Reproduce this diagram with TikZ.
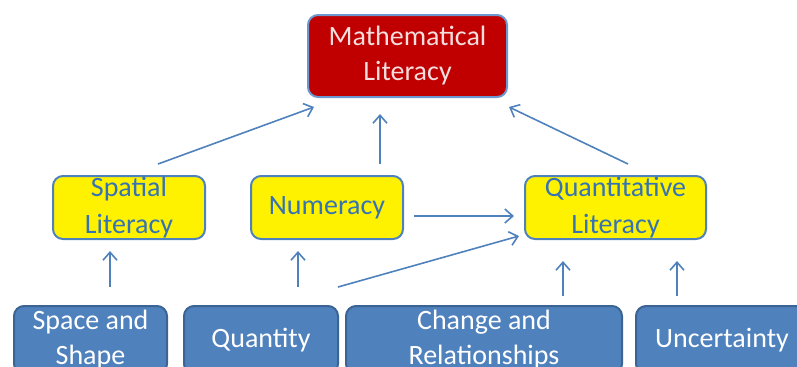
\documentclass[tikz,border=0pt]{standalone}
\usepackage{fontspec}
\setmainfont{Carlito}
\usetikzlibrary{arrows.meta}
\definecolor{litred}{HTML}{C00000}
\definecolor{litpink}{HTML}{F4DEDE}
\definecolor{litblue}{HTML}{4F81BD}
\definecolor{litedge}{HTML}{6C98CF}
\definecolor{litdark}{HTML}{3B6495}
\definecolor{littext}{HTML}{3573B4}
\tikzset{
	box/.style={rounded corners=5pt, line width=1pt, inner sep=0pt, align=center,
		font=\fontsize{14}{17.5}\selectfont},
	topbox/.style={box, fill=litred, draw=litedge, text=litpink},
	midbox/.style={box, fill=yellow, draw=litblue, text=littext, font=\fontsize{14}{18.5}\selectfont},
	lowbox/.style={box, fill=litblue, draw=litdark, text=white},
	link/.style={draw=litblue, line width=0.8pt, -{Straight Barb[length=4pt,width=7pt]}}
}
\begin{document}
\begin{tikzpicture}[x=0.5pt, y=-0.5pt]
			%%%%% FRAME %%%%%
			\useasboundingbox (0,0) rectangle (797,366);
			\clip (0,0) rectangle (797,366);
			
			%%%%% TOP %%%%%
			\node[topbox, minimum width=99.5pt, minimum height=41pt] (math) at (407.5,56) {Mathematical\\Literacy};
			
			%%%%% MIDDLE %%%%%
			\node[midbox, minimum width=76pt, minimum height=31.5pt] (spatial) at (129,207.5) {Spatial\\Literacy};
			\node[midbox, minimum width=76pt, minimum height=31.5pt] (numeracy) at (327,207.5) {Numeracy};
			\node[midbox, minimum width=90.5pt, minimum height=31.5pt] (quant) at (615.5,207.5) {Quantitative\\Literacy};
			
			%%%%% BOTTOM %%%%%
			\node[lowbox, minimum width=76.5pt, minimum height=34pt] (space) at (90.5,340) {Space and\\Shape};
			\node[lowbox, minimum width=77pt, minimum height=34pt] (quantity) at (261,340) {Quantity};
			\node[lowbox, minimum width=138pt, minimum height=34pt] (change) at (484,340) {Change and\\Relationships};
			\node[lowbox, minimum width=86pt, minimum height=34pt] (uncert) at (722,340) {Uncertainty};
			
			%%%%% LINKS %%%%%
			\draw[link] ([xshift=14.5pt, yshift=5.5pt]spatial.north) -- ([xshift=3.5pt, yshift=-4.5pt]math.south west);
			\draw[link] ([xshift=26.5pt, yshift=5.5pt]numeracy.north) -- ([xshift=-13.75pt, yshift=-8pt]math.south);
			\draw[link] ([xshift=6.25pt, yshift=5.5pt]quant.north) -- ([xshift=0.5pt, yshift=-4.5pt]math.south east);
			\draw[link] ([xshift=5pt, yshift=-4.25pt]numeracy.east) -- ([xshift=-5pt, yshift=-4.25pt]quant.west);
			\draw[link] ([xshift=38.5pt, yshift=9pt]quantity.north) -- ([xshift=-2.5pt, yshift=2pt]quant.south west);
			\draw[link] ([xshift=9.75pt, yshift=9pt]space.north) -- ([xshift=-9.5pt, yshift=-5.5pt]spatial.south);
			\draw[link] ([xshift=18.5pt, yshift=9pt]quantity.north) -- ([xshift=-14.5pt, yshift=-5.5pt]numeracy.south);
			\draw[link] ([xshift=39.5pt, yshift=4.5pt]change.north) -- ([xshift=-26.25pt, yshift=-10.5pt]quant.south);
			\draw[link] ([xshift=-22.5pt, yshift=4.5pt]uncert.north) -- ([xshift=30.75pt, yshift=-10.5pt]quant.south);
			
			%%%%% END %%%%%
\end{tikzpicture}
\end{document}
